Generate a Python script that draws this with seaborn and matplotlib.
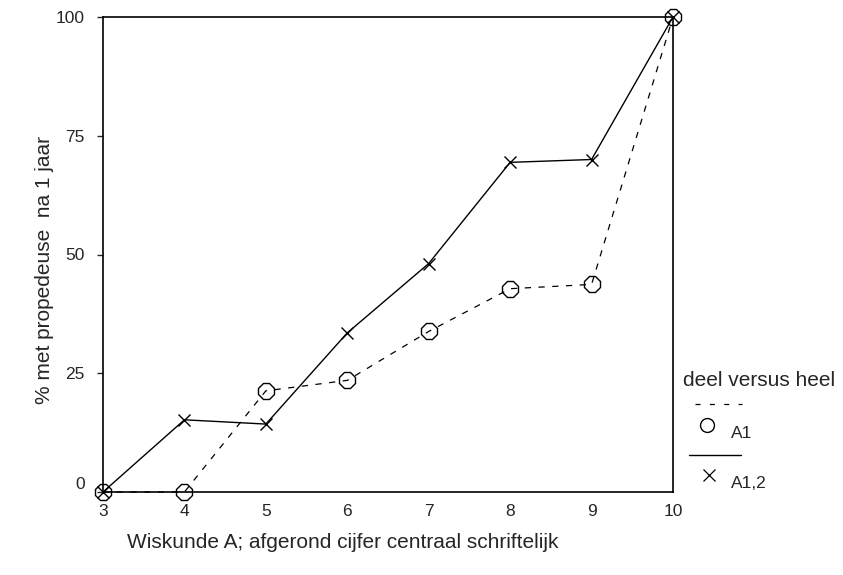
import matplotlib
matplotlib.use("Agg")
import matplotlib.pyplot as plt
import matplotlib.transforms as mtrans
from matplotlib.lines import Line2D
import seaborn as sns
import pandas as pd

grades = [3, 4, 5, 6, 7, 8, 9, 10]
a1 = [0, 0, 21.3, 23.5, 33.8, 42.8, 43.7, 100]
a12 = [0, 15.2, 14.3, 33.5, 48.1, 69.4, 70.0, 100]
yticks = [0, 25, 50, 75, 100]

sns.set_style("white")
plt.rcParams['font.family'] = ['Liberation Sans', 'DejaVu Sans']

df = pd.DataFrame({"grade": grades + grades,
                   "pct": a1 + a12,
                   "serie": ["A1"] * len(grades) + ["A1,2"] * len(grades)})

fig = plt.figure(figsize=(8.43, 5.75), dpi=100)
L, R, T, B = 103, 673, 17, 492
ax = fig.add_axes([L/843, (575-B)/575, (R-L)/843, (B-T)/575])

sns.lineplot(data=df[df.serie == "A1"], x="grade", y="pct", ax=ax,
             color="black", linewidth=0.9, linestyle=(0, (5, 6)),
             marker="8", markersize=12, markerfacecolor="none",
             markeredgecolor="black", markeredgewidth=1.0, legend=False)
sns.lineplot(data=df[df.serie == "A1,2"], x="grade", y="pct", ax=ax,
             color="black", linewidth=1.0, linestyle="-",
             marker="x", markersize=9, markeredgecolor="black",
             markeredgewidth=1.0, legend=False)
for ln in ax.get_lines():
    ln.set_clip_on(False)
    ln.set_zorder(5)

ax.set_xlim(3, 10)
ax.set_ylim(0, 100)
ax.set_xticks(grades)
ax.set_xticklabels([str(g) for g in grades], fontsize=12.5)
ax.set_yticks(yticks)
ax.set_yticklabels([str(t) for t in yticks], fontsize=12.5)
ax.tick_params(axis='y', length=4, width=1, direction='out', pad=9, left=True)
ax.tick_params(axis='x', length=0, pad=9)
for s in ax.spines.values():
    s.set_color("black")
    s.set_linewidth(1.2)
ax.set_xlabel("")
ax.set_ylabel("")

# shift '0' label slightly upward as in reference
lbl0 = ax.get_yticklabels()[0]
lbl0.set_transform(lbl0.get_transform() + mtrans.ScaledTranslation(0, 9/100, fig.dpi_scale_trans))

fig.text(45/843, 1 - 270/575, "% met propedeuse  na 1 jaar", rotation=90,
         ha="center", va="center", fontsize=15)
fig.text(127/843, 1 - 542/575, "Wiskunde A; afgerond cijfer centraal schriftelijk",
         ha="left", va="center", fontsize=15)

# legend drawn manually
fig.text(683/843, 1 - 380/575, "deel versus heel", ha="left", va="center", fontsize=15)
fig.add_artist(Line2D([695/843, 742/843], [1 - 404/575] * 2, color="black",
                      linewidth=0.9, linestyle=(0, (4, 7.5)), transform=fig.transFigure))
fig.add_artist(Line2D([707/843], [1 - 425/575], marker="o", markersize=10,
                      markerfacecolor="none", markeredgecolor="black",
                      linestyle="none", transform=fig.transFigure))
fig.text(731/843, 1 - 433/575, "A1", ha="left", va="center", fontsize=12.5)
fig.add_artist(Line2D([689/843, 741/843], [1 - 455/575] * 2, color="black",
                      linewidth=1.0, transform=fig.transFigure))
fig.add_artist(Line2D([709/843], [1 - 475/575], marker="x", markersize=8,
                      markeredgecolor="black", markeredgewidth=0.9,
                      linestyle="none", transform=fig.transFigure))
fig.text(731/843, 1 - 483/575, "A1,2", ha="left", va="center", fontsize=12.5)

fig.savefig("out.png", dpi=100)
